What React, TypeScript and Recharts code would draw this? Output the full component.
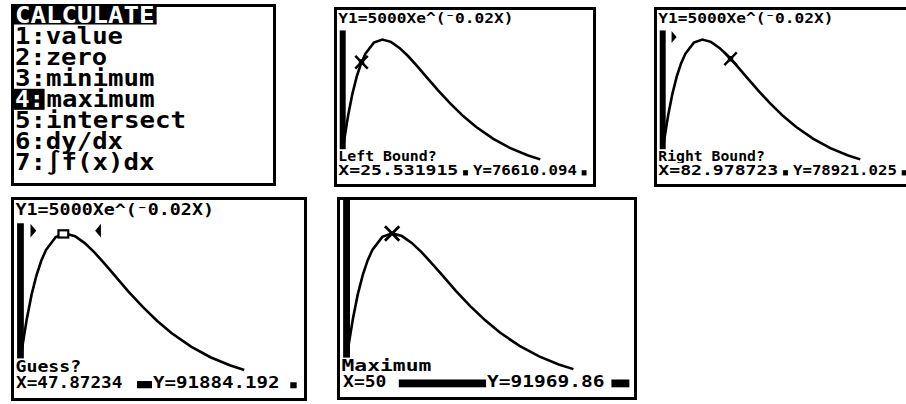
import React from 'react';
import { LineChart, Line, XAxis, YAxis, ReferenceArea, ReferenceDot } from 'recharts';

// Y1 = 5000X e^(-0.02X)
const curveX = [0, 3, 6, 10, 15, 20, 25, 30, 40, 50, 60, 70, 80, 90, 100, 115, 130, 145, 160, 180, 200, 220, 235];
const curveY = [0, 14100, 26600, 40900, 55600, 67000, 75800, 82300, 89900, 92000, 90400, 86300, 80800, 74400, 67700, 57600, 48300, 39900, 32600, 24600, 18300, 13500, 10700];

// window settings
const xWindow = [-3.19, 296.81];
const yWindow = [-6000, 112000];

// trace readouts [x, y]
const leftBound = [25.531915, 76610.094];
const rightBound = [82.978723, 78921.025];
const guessPoint = [47.87234, 91884.192];
const maxPoint = [50, 91969.86];

const menuTitle = 'CALCULATE';
const menuItems = ['1:value', '2:zero', '3:minimum', '4:maximum', '5:intersect', '6:dy/dx', '7:∫f(x)dx'];
const formula = 'Y1=5000Xe^(⁻0.02X)';

const curveData = curveX.map((x, i) => ({ x, y: curveY[i] }));

const FONT = "'DejaVu Sans Mono', monospace";
const BORDER = 3;
const MARK_Y = 93700; // row just under the formula, where the bound arrows sit

const TiText = ({ t, x0, x1, base, cap, fill = '#000' }: any) => (
  <text
    x={x0}
    y={base}
    fontFamily={FONT}
    fontWeight={700}
    fontSize={cap / 0.73}
    textLength={x1 - x0}
    lengthAdjust="spacingAndGlyphs"
    fill={fill}
  >
    {t}
  </text>
);

const Cursor = ({ cx, cy, sx, sy, kind }: any) => {
  if (kind === 'box') {
    return (
      <rect x={cx - 1.6 * sx} y={cy - 1.1 * sy} width={3.2 * sx} height={2.3 * sy} fill="#fff" stroke="#000" strokeWidth={2.2} />
    );
  }
  const a = 2 * sx;
  const b = 2 * sy;
  return (
    <g stroke="#000" strokeWidth={sx * 0.9} strokeLinecap="square">
      <line x1={cx - a} y1={cy - b} x2={cx + a} y2={cy + b} />
      <line x1={cx - a} y1={cy + b} x2={cx + a} y2={cy - b} />
      {kind === 'crossFill' && <rect x={cx - sx} y={cy - sy} width={2 * sx} height={2 * sy} fill="#000" stroke="none" />}
    </g>
  );
};

const BoundMark = ({ cx, cy, sx, sy, dir }: any) => {
  const h = 2.2 * sy;
  let tip, base;
  if (dir === 'right') {
    tip = cx - 1.8 * sx;
    base = tip - 1.9 * sx;
  } else {
    tip = cx - 0.7 * sx;
    base = tip + 1.9 * sx;
  }
  return <polygon points={`${base},${cy - h} ${tip},${cy} ${base},${cy + h}`} fill="#000" />;
};

interface Block { c0: number; c1: number; r0: number; r1: number }

interface Screen {
  x: number; y: number; w: number; h: number;
  formula: boolean;
  prompt: string; promptEnd: number;
  xText: [number, number]; yText: [number, number];
  blocks: Block[];
  readout: number[];
  bounds: ('left' | 'right')[];
  cursor: { pt: number[]; kind: string };
}

const screens: Screen[] = [
  {
    x: 334, y: 7, w: 262, h: 180, formula: true,
    prompt: 'Left Bound?', promptEnd: 37,
    readout: leftBound, xText: [0.5, 45], yText: [50.5, 89],
    blocks: [{ c0: 46.8, c1: 48.6, r0: 58, r1: 59.9 }, { c0: 90.8, c1: 92.6, r0: 58, r1: 59.9 }],
    bounds: [], cursor: { pt: leftBound, kind: 'crossFill' },
  },
  {
    x: 654, y: 7, w: 262, h: 180, formula: true,
    prompt: 'Right Bound?', promptEnd: 40,
    readout: rightBound, xText: [0.5, 45], yText: [50.5, 89],
    blocks: [{ c0: 46.8, c1: 48.6, r0: 58, r1: 59.9 }, { c0: 90.8, c1: 92.6, r0: 58, r1: 59.9 }],
    bounds: ['left'], cursor: { pt: rightBound, kind: 'crossFill' },
  },
  {
    x: 11, y: 197, w: 296, h: 204, formula: true,
    prompt: 'Guess?', promptEnd: 22,
    readout: guessPoint, xText: [0.7, 35.5], yText: [45.5, 87],
    blocks: [{ c0: 40.3, c1: 45.2, r0: 57.6, r1: 59.9 }, { c0: 90.5, c1: 92.6, r0: 58, r1: 59.9 }],
    bounds: ['left', 'right'], cursor: { pt: guessPoint, kind: 'box' },
  },
  {
    x: 337, y: 197, w: 300, h: 203, formula: false,
    prompt: 'Maximum', promptEnd: 29.5,
    readout: maxPoint, xText: [1, 15], yText: [47.5, 85.5],
    blocks: [{ c0: 19, c1: 47.2, r0: 57.4, r1: 59.9 }, { c0: 87.7, c1: 93.5, r0: 57.4, r1: 59.9 }],
    bounds: [], cursor: { pt: maxPoint, kind: 'cross' },
  },
];

const GraphScreen = ({ s }: { s: Screen }) => {
  const iw = s.w - 2 * BORDER;
  const ih = s.h - 2 * BORDER;
  const sx = iw / 95;
  const sy = ih / 63;
  const c = (v: number) => v * sx;
  const r = (v: number) => v * sy;
  const capSmall = 3.75 * sy;
  return (
    <div
      style={{
        position: 'absolute', left: s.x, top: s.y, width: s.w, height: s.h,
        border: `${BORDER}px solid #000`, boxSizing: 'border-box', background: '#fff', overflow: 'hidden',
      }}
    >
      <div style={{ position: 'relative', width: iw, height: ih }}>
        <LineChart width={iw} height={ih} data={curveData} margin={{ top: 0, right: 0, bottom: 0, left: 0 }}>
          <XAxis type="number" dataKey="x" domain={xWindow} hide allowDataOverflow />
          <YAxis type="number" domain={yWindow} hide allowDataOverflow />
          <ReferenceArea x1={0} x2={7} fill="#000" fillOpacity={1} stroke="none" ifOverflow="hidden" />
          <Line type="linear" dataKey="y" stroke="#000" strokeWidth={2.6} dot={false} isAnimationActive={false} />
          {s.bounds.includes('left') && (
            <ReferenceDot x={leftBound[0]} y={MARK_Y} r={3} shape={(p: any) => <BoundMark cx={p.cx} cy={p.cy} sx={sx} sy={sy} dir="right" />} />
          )}
          {s.bounds.includes('right') && (
            <ReferenceDot x={rightBound[0]} y={MARK_Y} r={3} shape={(p: any) => <BoundMark cx={p.cx} cy={p.cy} sx={sx} sy={sy} dir="left" />} />
          )}
          <ReferenceDot
            x={s.cursor.pt[0]}
            y={s.cursor.pt[1]}
            r={3}
            shape={(p: any) => <Cursor cx={p.cx} cy={p.cy} sx={sx} sy={sy} kind={s.cursor.kind} />}
          />
        </LineChart>
        <svg width={iw} height={ih} style={{ position: 'absolute', left: 0, top: 0, pointerEvents: 'none' }}>
          {s.formula && (
            <>
              <rect x={0} y={0} width={c(67)} height={r(7.4)} fill="#fff" />
              <TiText t={formula} x0={c(0.5)} x1={c(65.5)} base={r(4.8)} cap={capSmall} />
            </>
          )}
          <rect x={0} y={r(50.4)} width={c(s.promptEnd + 1)} height={r(5.2)} fill="#fff" />
          <TiText t={s.prompt} x0={c(0.5)} x1={c(s.promptEnd)} base={r(54.8)} cap={capSmall} />
          <rect x={0} y={r(55.4)} width={iw} height={ih - r(55.4)} fill="#fff" />
          <TiText t={`X=${s.readout[0]}`} x0={c(s.xText[0])} x1={c(s.xText[1])} base={r(59.8)} cap={capSmall} />
          <TiText t={`Y=${s.readout[1]}`} x0={c(s.yText[0])} x1={c(s.yText[1])} base={r(59.8)} cap={capSmall} />
          {s.blocks.map((b, i) => (
            <rect key={i} x={c(b.c0)} y={r(b.r0)} width={c(b.c1 - b.c0)} height={r(b.r1 - b.r0)} fill="#000" />
          ))}
        </svg>
      </div>
    </div>
  );
};

const MenuScreen = () => {
  // svg starts at the page top so the title's glyph box is not clipped
  const box = { x: 11, y: 4, w: 265, h: 182 };
  const oy = box.y;
  const pitch = 15.8;
  const cap = 16.3;
  const left = BORDER + 1;
  const rowBase = (i: number) => oy + BORDER + 15.8 + 21 * i;
  const len = (n: number) => n * pitch - 2.6;
  return (
    <svg
      width={box.w}
      height={box.h + oy}
      style={{ position: 'absolute', left: box.x, top: 0, display: 'block' }}
    >
      <rect x={BORDER / 2} y={oy + BORDER / 2} width={box.w - BORDER} height={box.h - BORDER} fill="#fff" stroke="#000" strokeWidth={BORDER} />
      <rect x={BORDER} y={oy + BORDER} width={len(menuTitle.length) + 3} height={17.5} fill="#000" />
      <TiText t={menuTitle} x0={left} x1={left + len(menuTitle.length)} base={rowBase(0)} cap={cap} fill="#fff" />
      {menuItems.map((t, i) => {
        const base = rowBase(i + 1);
        if (i === 3) {
          return (
            <g key={t}>
              <rect x={BORDER} y={base - 18} width={2 * pitch - 1} height={21} fill="#000" />
              <TiText t={t.slice(0, 2)} x0={left} x1={left + len(2)} base={base} cap={cap} fill="#fff" />
              <TiText t={t.slice(2)} x0={left + 2 * pitch} x1={left + 2 * pitch + len(t.length - 2)} base={base} cap={cap} />
            </g>
          );
        }
        return <TiText key={t} t={t} x0={left} x1={left + len(t.length)} base={base} cap={cap} />;
      })}
    </svg>
  );
};

const App: React.FC = () => {
  return (
    <div style={{ position: 'absolute', left: 0, top: 0, width: 906, height: 404, background: '#fff', overflow: 'hidden' }}>
      <MenuScreen />
      {screens.map((s, i) => (
        <GraphScreen key={i} s={s} />
      ))}
    </div>
  );
};

export default App;
